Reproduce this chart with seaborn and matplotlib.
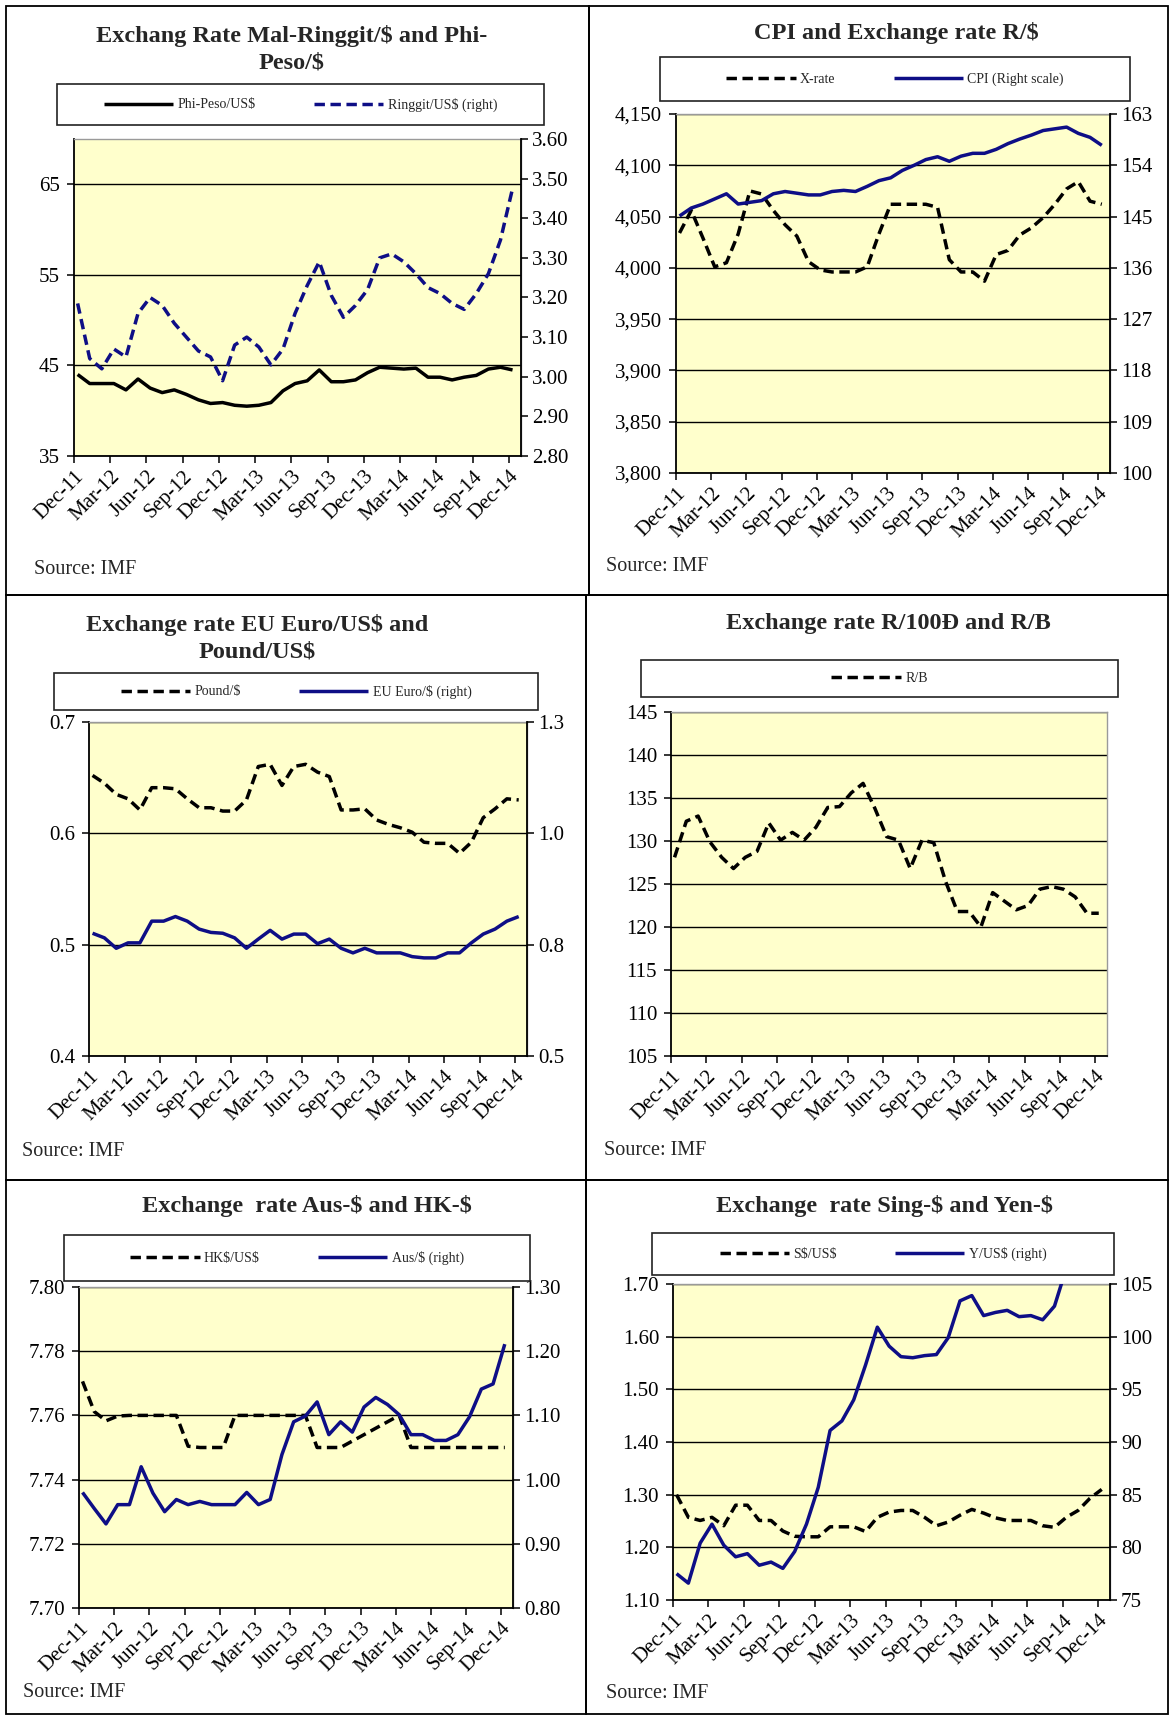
import numpy as np
import pandas as pd
import matplotlib
matplotlib.use("Agg")
import matplotlib.pyplot as plt
import seaborn as sns
from matplotlib.patches import Rectangle
from matplotlib.ticker import FixedLocator, FuncFormatter

sns.set_theme(style="white")
plt.rcParams['font.family'] = ['Liberation Serif', 'DejaVu Serif']

# ---------------- data ----------------
months = pd.date_range("2011-12-01", "2014-12-01", freq="MS")
tick_labels = ["Dec-11", "Mar-12", "Jun-12", "Sep-12", "Dec-12", "Mar-13", "Jun-13",
               "Sep-13", "Dec-13", "Mar-14", "Jun-14", "Sep-14", "Dec-14"]

phi_peso = [44.0, 43.0, 43.0, 43.0, 42.3, 43.5, 42.5, 42.0, 42.3, 41.8, 41.2, 40.8, 40.9,
            40.6, 40.5, 40.6, 40.9, 42.2, 43.0, 43.3, 44.5, 43.2, 43.2, 43.4, 44.2, 44.8,
            44.7, 44.6, 44.7, 43.7, 43.7, 43.4, 43.7, 43.9, 44.6, 44.8, 44.5]
ringgit = [3.185, 3.046, 3.02, 3.07, 3.05, 3.16, 3.20, 3.18, 3.135, 3.10, 3.065, 3.05, 2.99,
           3.08, 3.10, 3.075, 3.03, 3.07, 3.16, 3.23, 3.29, 3.205, 3.15, 3.18, 3.22, 3.30,
           3.31, 3.29, 3.26, 3.225, 3.21, 3.185, 3.17, 3.21, 3.26, 3.345, 3.475]

x_rate = [4034, 4056, 4029, 4001, 4005, 4033, 4075, 4072, 4056, 4042, 4031, 4006, 3998,
          3996, 3996, 3996, 4001, 4033, 4062, 4062, 4062, 4062, 4059, 4008, 3996, 3996,
          3987, 4013, 4017, 4032, 4039, 4049, 4062, 4077, 4084, 4065, 4062]
cpi = [145.1, 146.5, 147.2, 148.1, 149.0, 147.2, 147.5, 147.8, 149.0, 149.4, 149.1, 148.8,
       148.8, 149.4, 149.6, 149.4, 150.3, 151.3, 151.8, 153.1, 154.0, 155.0, 155.5, 154.7,
       155.6, 156.1, 156.1, 156.8, 157.8, 158.6, 159.3, 160.1, 160.4, 160.7, 159.6, 158.9, 157.5]

pound = [0.652, 0.645, 0.635, 0.631, 0.621, 0.641, 0.641, 0.640, 0.631, 0.623, 0.623, 0.620,
         0.620, 0.630, 0.660, 0.662, 0.643, 0.660, 0.662, 0.655, 0.651, 0.621, 0.621, 0.622,
         0.612, 0.608, 0.605, 0.601, 0.592, 0.591, 0.591, 0.582, 0.592, 0.614, 0.622, 0.631, 0.630]
euro = [0.794, 0.783, 0.758, 0.771, 0.771, 0.823, 0.823, 0.834, 0.823, 0.804, 0.796, 0.794,
        0.783, 0.758, 0.780, 0.801, 0.780, 0.792, 0.792, 0.769, 0.780, 0.758, 0.747, 0.758,
        0.747, 0.747, 0.747, 0.738, 0.735, 0.735, 0.747, 0.747, 0.771, 0.792, 0.804, 0.823, 0.834]

r_b = [128.1, 132.3, 132.9, 129.9, 128.1, 126.8, 128.1, 128.8, 132.1, 130.1, 131.0, 130.1,
       131.6, 133.9, 134.0, 135.6, 136.7, 133.8, 130.5, 130.1, 126.8, 130.1, 129.8, 125.3,
       121.8, 121.8, 120.0, 124.0, 123.0, 122.0, 122.5, 124.4, 124.7, 124.4, 123.5, 121.6, 121.6]

hkd = [7.7706, 7.7612, 7.7583, 7.7598, 7.76, 7.76, 7.76, 7.76, 7.76, 7.7504, 7.75, 7.75,
       7.75, 7.76, 7.76, 7.76, 7.76, 7.76, 7.76, 7.76, 7.75, 7.75, 7.75, 7.752, 7.754,
       7.756, 7.758, 7.76, 7.75, 7.75, 7.75, 7.75, 7.75, 7.75, 7.75, 7.75, 7.75]
aud = [0.980, 0.955, 0.931, 0.961, 0.961, 1.020, 0.979, 0.950, 0.969, 0.961, 0.966, 0.961,
       0.961, 0.961, 0.980, 0.961, 0.969, 1.039, 1.090, 1.099, 1.121, 1.070, 1.090, 1.074,
       1.113, 1.128, 1.117, 1.101, 1.070, 1.070, 1.061, 1.061, 1.070, 1.098, 1.141, 1.149, 1.211]

sgd = [1.30, 1.257, 1.251, 1.257, 1.241, 1.28, 1.28, 1.251, 1.251, 1.231, 1.221, 1.22, 1.22,
       1.239, 1.239, 1.239, 1.23, 1.257, 1.267, 1.27, 1.27, 1.257, 1.241, 1.248, 1.261, 1.272,
       1.265, 1.256, 1.251, 1.251, 1.251, 1.241, 1.238, 1.257, 1.27, 1.293, 1.31]
yen = [77.5, 76.6, 80.4, 82.2, 80.2, 79.1, 79.4, 78.3, 78.6, 78.0, 79.6, 82.2, 85.7, 91.1,
       92.0, 94.0, 97.3, 100.9, 99.1, 98.1, 98.0, 98.2, 98.3, 99.9, 103.4, 103.9, 102.0,
       102.3, 102.5, 101.9, 102.0, 101.6, 102.9, 106.5, np.nan, np.nan, np.nan]

# ---------------- styling ----------------
W, H = 1171, 1717
YELLOW = "#FFFFCC"
NAVY = "#0E0E86"
LW = 2.5
DASH = (3.0, 1.6)
TICK_FS = 15
SERIF = ['Liberation Serif', 'DejaVu Serif']

fig = plt.figure(figsize=(W / 100, H / 100), dpi=100)
fig.patch.set_facecolor("white")


def fx(x):
    return x / W


def fy(y):
    return 1 - y / H


def fig_rect(x0, y0, x1, y1, lw=1.3, ec="black"):
    fig.add_artist(Rectangle((fx(x0), fy(y1)), fx(x1) - fx(x0), fy(y0) - fy(y1),
                             transform=fig.transFigure, fill=False, ec=ec, lw=lw))


xpos = np.arange(len(months))
tick_pos = np.arange(0, len(months), 3) - 0.3


def draw(ax, vals, color, dashed):
    sns.lineplot(x=xpos, y=np.asarray(vals, dtype=float), ax=ax, color=color, lw=LW,
                 estimator=None, sort=False, legend=False)
    line = ax.lines[-1]
    if dashed:
        line.set_linestyle((0, DASH))
    line.set_solid_capstyle("butt")
    line.set_dash_capstyle("butt")
    return line


def make_panel(rect, left_lim, left_ticks, left_fmt, series, right=None,
               title="", title_xy=(0, 0), legend_box=None, source_xy=(0, 0)):
    x0, y0, x1, y1 = rect
    ax = fig.add_axes([fx(x0), fy(y1), fx(x1) - fx(x0), fy(y0) - fy(y1)])
    ax.set_facecolor(YELLOW)
    ax.set_xlim(-0.3, 36.7)
    ax.set_ylim(*left_lim)
    ax.yaxis.set_major_locator(FixedLocator(left_ticks))
    ax.yaxis.set_major_formatter(FuncFormatter(left_fmt))
    ax.set_xticks(tick_pos)
    ax.set_xticklabels(tick_labels, rotation=45, ha="right", rotation_mode="anchor",
                       fontsize=TICK_FS)
    ax.tick_params(axis="y", direction="out", length=5, width=1.1, labelsize=TICK_FS,
                   pad=5, left=True, colors="black")
    ax.tick_params(axis="x", direction="out", length=5, width=1.1, pad=3, bottom=True,
                   colors="black")
    ax.grid(False)
    ax.yaxis.grid(True, color="black", lw=1.0)
    ax.set_axisbelow(True)
    for s in ["left", "bottom"]:
        ax.spines[s].set_color("black")
        ax.spines[s].set_linewidth(1.3)
    ax.spines["top"].set_color("#9A9A9A")
    ax.spines["top"].set_linewidth(1.0)
    ax.spines["right"].set_color("#9A9A9A")
    ax.spines["right"].set_linewidth(1.0)

    handles = []
    for vals, color, dashed, lab in series:
        handles.append((draw(ax, vals, color, dashed), lab))
    ax.set_xlabel("")
    ax.set_ylabel("")

    if right is not None:
        r_lim, r_ticks, r_fmt, r_series = right
        ax2 = ax.twinx()
        ax2.set_ylim(*r_lim)
        ax2.yaxis.set_major_locator(FixedLocator(r_ticks))
        ax2.yaxis.set_major_formatter(FuncFormatter(r_fmt))
        ax2.tick_params(axis="y", direction="out", length=5, width=1.1,
                        labelsize=TICK_FS, pad=3, right=True, colors="black")
        ax2.grid(False)
        for s in ["left", "bottom", "top"]:
            ax2.spines[s].set_visible(False)
        ax2.spines["right"].set_color("black")
        ax2.spines["right"].set_linewidth(1.3)
        for vals, color, dashed, lab in r_series:
            handles.append((draw(ax2, vals, color, dashed), lab))
        ax2.set_xlabel("")
        ax2.set_ylabel("")

    fig.text(fx(title_xy[0]), fy(title_xy[1]), title, ha="center", va="center",
             fontsize=17.5, fontweight="bold", family=SERIF, linespacing=1.32)
    bx0, by0, bx1, by1 = legend_box
    fig_rect(bx0, by0, bx1, by1, lw=1.2, ec="#222222")
    fig.legend([h for h, _ in handles], [l for _, l in handles], loc="center",
               bbox_to_anchor=(fx((bx0 + bx1) / 2), fy((by0 + by1) / 2)),
               bbox_transform=fig.transFigure, ncol=len(handles), frameon=False,
               prop={"family": SERIF, "size": 10}, handlelength=5.0, handletextpad=0.3,
               columnspacing=4.2)
    fig.text(fx(source_xy[0]), fy(source_xy[1]), "Source: IMF", ha="left", va="center",
             fontsize=14.5, family=SERIF)
    return ax


# panel borders
fig_rect(6, 6, 589, 595)
fig_rect(589, 6, 1168, 595)
fig_rect(6, 595, 586, 1180)
fig_rect(586, 595, 1168, 1180)
fig_rect(6, 1180, 586, 1714)
fig_rect(586, 1180, 1168, 1714)

f0 = lambda v, p: f"{v:.0f}"
f1 = lambda v, p: f"{v:.1f}"
f2 = lambda v, p: f"{v:.2f}"
fc = lambda v, p: f"{v:,.0f}"

# Panel 1
make_panel((74, 139, 521, 456), (35, 70), [35, 45, 55, 65], f0,
           [(phi_peso, "black", False, "Phi-Peso/US\\$")],
           right=((2.80, 3.60), np.arange(2.80, 3.601, 0.10), f2,
                  [(ringgit, NAVY, True, "Ringgit/US\\$ (right)")]),
           title="Exchang Rate Mal-Ringgit/\\$ and Phi-\nPeso/\\$", title_xy=(292, 49),
           legend_box=(57, 84, 544, 125), source_xy=(34, 570))

# Panel 2
make_panel((676, 114, 1110, 473), (3800, 4150), np.arange(3800, 4151, 50), fc,
           [(x_rate, "black", True, "X-rate")],
           right=((100, 163), np.arange(100, 164, 9), f0,
                  [(cpi, NAVY, False, "CPI (Right scale)")]),
           title="CPI and Exchange rate R/\\$", title_xy=(896, 32.5),
           legend_box=(660, 57, 1130, 101), source_xy=(606, 566))

# Panel 3
make_panel((89, 722, 527, 1056), (0.4, 0.7), [0.4, 0.5, 0.6, 0.7], f1,
           [(pound, "black", True, "Pound/\\$")],
           right=((0.5, 1.3), np.linspace(0.5, 1.3, 4), f1,
                  [(euro, NAVY, False, "EU Euro/\\$ (right)")]),
           title="Exchange rate EU Euro/US\\$ and\nPound/US\\$", title_xy=(257, 638),
           legend_box=(54, 673, 538, 710), source_xy=(22, 1151))

# Panel 4
make_panel((671, 712, 1107, 1056), (105, 145), np.arange(105, 146, 5), f0,
           [(r_b, "black", True, "R/B")],
           title="Exchange rate R/100Đ and R/B", title_xy=(888, 624),
           legend_box=(641, 660, 1118, 697), source_xy=(604, 1150))

# Panel 5
make_panel((79, 1287, 513, 1608), (7.70, 7.80), np.arange(7.70, 7.801, 0.02), f2,
           [(hkd, "black", True, "HK\\$/US\\$")],
           right=((0.80, 1.30), np.arange(0.80, 1.301, 0.10), f2,
                  [(aud, NAVY, False, "Aus/\\$ (right)")]),
           title="Exchange  rate Aus-\\$ and HK-\\$", title_xy=(307, 1206),
           legend_box=(64, 1235, 530, 1281), source_xy=(23, 1692))

# Panel 6
make_panel((673, 1284, 1110, 1600), (1.10, 1.70), np.arange(1.10, 1.701, 0.10), f2,
           [(sgd, "black", True, "S\\$/US\\$")],
           right=((75, 105), np.arange(75, 106, 5), f0,
                  [(yen, NAVY, False, "Y/US\\$ (right)")]),
           title="Exchange  rate Sing-\\$ and Yen-\\$", title_xy=(884, 1206),
           legend_box=(652, 1233, 1114, 1275), source_xy=(606, 1693))

fig.savefig("out.png", dpi=100, facecolor="white")
